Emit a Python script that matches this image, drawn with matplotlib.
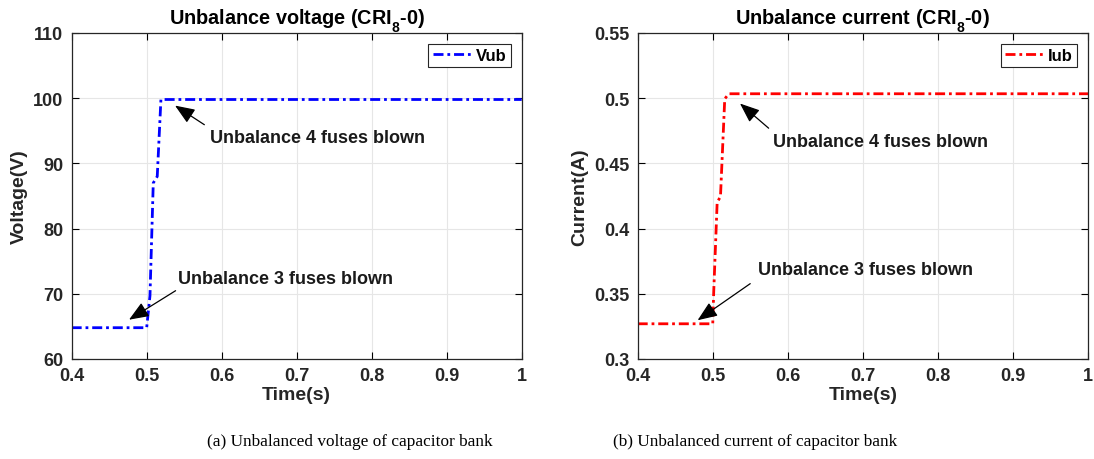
import matplotlib
matplotlib.use("Agg")
import matplotlib.pyplot as plt
import matplotlib._mathtext as mathtext_impl

plt.rcParams['font.family'] = ['Liberation Sans', 'DejaVu Sans']
plt.rcParams['mathtext.fontset'] = 'custom'
plt.rcParams['mathtext.rm'] = 'Liberation Sans:bold'
plt.rcParams['mathtext.bf'] = 'Liberation Sans:bold'
# drop subscripts a bit lower, like the MATLAB titles
mathtext_impl.FontConstantsBase.sub1 = 0.75

# unbalance voltage across the neutral (V)
t_v = [0.4, 0.5, 0.5044, 0.5088, 0.5141, 0.5190, 1.0]
vub = [64.8, 64.8, 69.7, 87.0, 88.0, 99.8, 99.8]

# unbalance neutral current (A)
t_i = [0.4, 0.5, 0.5013, 0.5059, 0.5103, 0.5160, 0.5214, 1.0]
iub = [0.327, 0.327, 0.3515, 0.4203, 0.4244, 0.4995, 0.5034, 0.5034]

xticks = [0.4, 0.5, 0.6, 0.7, 0.8, 0.9, 1.0]
xticklabels = ['0.4', '0.5', '0.6', '0.7', '0.8', '0.9', '1']
v_ticks = [60, 70, 80, 90, 100, 110]
i_ticks = [0.3, 0.35, 0.4, 0.45, 0.5, 0.55]
i_ticklabels = ['0.3', '0.35', '0.4', '0.45', '0.5', '0.55']

# MATLAB-like dash-dot pattern
dashdot = (0, (3.6, 1.4, 1.0, 1.4))

fig = plt.figure(figsize=(10.94, 4.6), dpi=100)
ax1 = fig.add_axes([0.0655, 0.2174, 0.4114, 0.7087])
ax2 = fig.add_axes([0.5829, 0.2174, 0.4116, 0.7087])


def style_axes(ax):
    ax.grid(True, color='#e6e6e6', linewidth=0.8)
    ax.set_axisbelow(True)
    ax.tick_params(direction='in', top=True, right=True, length=5,
                   width=0.8, labelsize=13, pad=6)
    for lab in ax.get_xticklabels() + ax.get_yticklabels():
        lab.set_fontweight('bold')
        lab.set_color('#262626')
    for s in ax.spines.values():
        s.set_linewidth(0.9)
        s.set_color('#262626')


def add_legend(ax):
    leg = ax.legend(loc='upper right', fontsize=12, handlelength=2.3, fancybox=False,
                    edgecolor='#262626', framealpha=1, borderpad=0.25,
                    handletextpad=0.3, borderaxespad=0.65)
    leg.get_frame().set_linewidth(0.8)
    for txt in leg.get_texts():
        txt.set_fontweight('bold')


arrow = dict(arrowstyle='-|>,head_length=0.55,head_width=0.22', color='black',
             lw=0.9, mutation_scale=22)
note_kw = dict(fontsize=13, fontweight='bold', va='center', ha='left', color='#1a1a1a')

# voltage
ax1.plot(t_v, vub, color='#0000ff', linestyle=dashdot, linewidth=2.0, label='Vub')
ax1.set_xlim(0.4, 1.0)
ax1.set_ylim(60, 110)
ax1.set_xticks(xticks)
ax1.set_xticklabels(xticklabels)
ax1.set_yticks(v_ticks)
style_axes(ax1)
ax1.set_xlabel('Time(s)', fontsize=14, fontweight='bold', labelpad=1, color='#262626')
ax1.set_ylabel('Voltage(V)', fontsize=14, fontweight='bold', labelpad=4, color='#262626')
ax1.set_title(r'Unbalance voltage (CRI$_{8}$-0)', fontsize=14.3, fontweight='bold', pad=7)
ax1.annotate('', xy=(0.5347, 99.1), xytext=(0.580, 95.7), arrowprops=arrow)
ax1.text(0.5845, 94.0, 'Unbalance 4 fuses blown', **note_kw)
ax1.annotate('', xy=(0.4733, 65.8), xytext=(0.5417, 70.7), arrowprops=arrow)
ax1.text(0.542, 72.4, 'Unbalance 3 fuses blown', **note_kw)
add_legend(ax1)

# current
ax2.plot(t_i, iub, color='#ff0000', linestyle=dashdot, linewidth=2.0, label='Iub')
ax2.set_xlim(0.4, 1.0)
ax2.set_ylim(0.3, 0.55)
ax2.set_xticks(xticks)
ax2.set_xticklabels(xticklabels)
ax2.set_yticks(i_ticks)
ax2.set_yticklabels(i_ticklabels)
style_axes(ax2)
ax2.set_xlabel('Time(s)', fontsize=14, fontweight='bold', labelpad=1, color='#262626')
ax2.set_ylabel('Current(A)', fontsize=14, fontweight='bold', labelpad=4, color='#262626')
ax2.set_title(r'Unbalance current (CRI$_{8}$-0)', fontsize=14.3, fontweight='bold', pad=7)
ax2.annotate('', xy=(0.5335, 0.4973), xytext=(0.5773, 0.4756), arrowprops=arrow)
ax2.text(0.580, 0.467, 'Unbalance 4 fuses blown', **note_kw)
ax2.annotate('', xy=(0.4768, 0.3285), xytext=(0.553, 0.359), arrowprops=arrow)
ax2.text(0.560, 0.3683, 'Unbalance 3 fuses blown', **note_kw)
add_legend(ax2)

# sub-figure captions
cap_kw = dict(fontsize=12.4, family='Liberation Serif', ha='center', va='center')
fig.text(350 / 1094, 1 - 442 / 460, '(a) Unbalanced voltage of capacitor bank', **cap_kw)
fig.text(755 / 1094, 1 - 442 / 460, '(b) Unbalanced current of capacitor bank', **cap_kw)

fig.savefig('out.png', dpi=100)
